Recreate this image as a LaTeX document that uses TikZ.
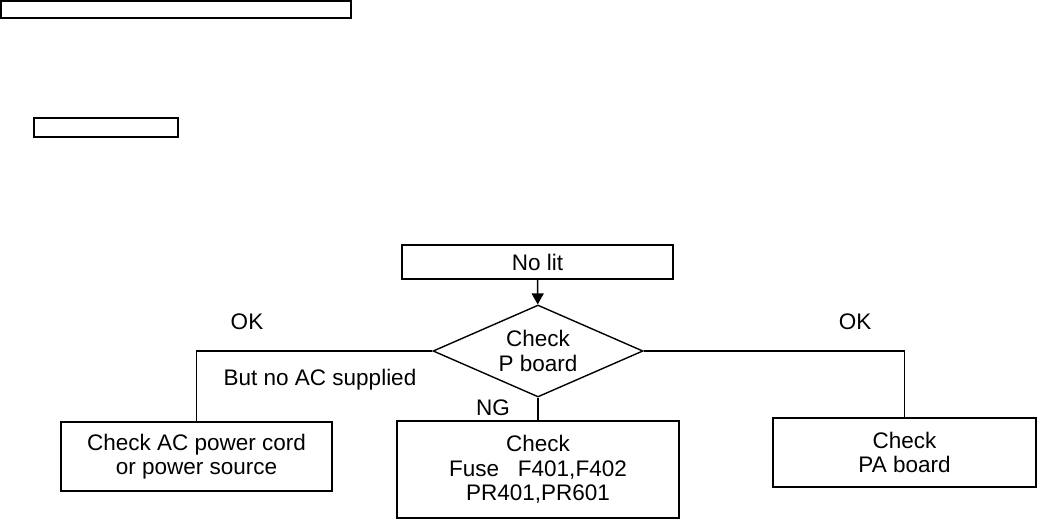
\documentclass[tikz,border=0pt]{standalone}
\usepackage{fontspec}
\setmainfont{Liberation Sans}
\usetikzlibrary{shapes.geometric, arrows.meta}

\begin{document}
\begin{tikzpicture}[x=1pt, y=-1pt, line width=1.4pt,
    box/.style = {draw, rectangle, inner sep=0pt, align=center, font=\fontsize{22.5}{24.5}\selectfont},
    lbl/.style = {font=\fontsize{22.5}{24.5}\selectfont}]
    \useasboundingbox (0,0) rectangle (1046,519);
    \node[box, minimum width=350, minimum height=17] (title) at (176,9.5) {};
    \node[box, minimum width=144, minimum height=19] (sub) at (106,127.5) {};
    \node[box, minimum width=271, minimum height=34] (nolit) at (537.5,262) {No lit};
    \node[box, diamond, aspect=2.28, minimum width=210, minimum height=92] (pboard) at (538,351) {Check\\P board};
    \node[box, minimum width=271, minimum height=69] (cord) at (196.5,456.5) {Check AC power cord\\or power source};
    \node[box, minimum width=282, minimum height=97] (fuse) at (538,469.5) {Check\\Fuse\ \ \ F401,F402\\PR401,PR601};
    \node[box, minimum width=263, minimum height=69] (pa) at (904.5,452.5) {Check\\PA board};
    \draw[-{Triangle[width=12pt, length=11pt]}] (nolit) -- (pboard);
    \draw (pboard.west) -| (cord.north);
    \draw (pboard.east) -| (pa.north);
    \draw (pboard.south) -- (fuse.north);
    \node[lbl] (okl) at (247,322) {OK};
    \node[lbl] (okr) at (855,322) {OK};
    \node[lbl] (noac) at (320,380) {But no AC supplied};
    \node[lbl] (ng) at (493,408) {NG};
\end{tikzpicture}
\end{document}
